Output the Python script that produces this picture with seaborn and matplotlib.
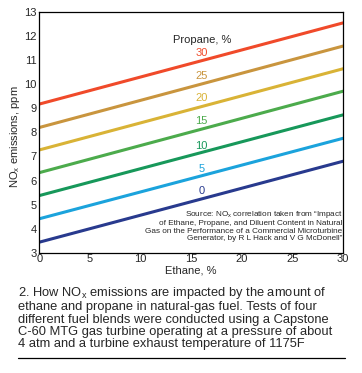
import pandas as pd
import matplotlib.pyplot as plt
import seaborn as sns

# ── DATA ───────────────────────────────────────────────
ethane = [0, 30]
propane = [0, 5, 10, 15, 20, 25, 30]
nox_at_0 = [3.45, 4.42, 5.38, 6.33, 7.27, 8.20, 9.17]
nox_at_30 = [6.80, 7.75, 8.72, 9.70, 10.63, 11.57, 12.53]
label_y = [5.56, 6.50, 7.44, 8.48, 9.40, 10.35, 11.30]
colors = ['#283a8e', '#1ba3dc', '#17985a', '#4cab4c', '#d9b336', '#c9953e', '#f04a2a']

x_ticks = [0, 5, 10, 15, 20, 25, 30]
y_ticks = [3, 4, 5, 6, 7, 8, 9, 10, 11, 12, 13]

rows = []
for p, a, b in zip(propane, nox_at_0, nox_at_30):
    rows.append({'Ethane': ethane[0], 'NOx': a, 'Propane': p})
    rows.append({'Ethane': ethane[1], 'NOx': b, 'Propane': p})
df = pd.DataFrame(rows)

# ── STYLE ──────────────────────────────────────────────
sns.set_style('white')
plt.rcParams['font.family'] = ['Liberation Sans', 'DejaVu Sans']
plt.rcParams['mathtext.fontset'] = 'custom'
plt.rcParams['mathtext.rm'] = 'Liberation Sans'
plt.rcParams['mathtext.it'] = 'Liberation Sans'

fig = plt.figure(figsize=(3.62, 3.73), dpi=100)
ax = fig.add_axes([0.109, 0.3217, 0.8385, 0.6473])

sns.lineplot(data=df, x='Ethane', y='NOx', hue='Propane',
             palette=dict(zip(propane, colors)), linewidth=2.2,
             legend=False, ax=ax)

ax.set_xlim(0, 30)
ax.set_ylim(3, 13)
ax.set_xticks(x_ticks)
ax.set_yticks(y_ticks)
ax.tick_params(axis='x', direction='in', length=7, width=0.8, labelsize=8, pad=1)
ax.tick_params(axis='y', direction='in', length=4, width=0.8, labelsize=8, pad=2)
for s in ax.spines.values():
    s.set_linewidth(0.9)
    s.set_color('black')

ax.set_xlabel('Ethane, %', fontsize=8, labelpad=1)
ax.set_ylabel('NO$_\\mathrm{x}$ emissions, ppm', fontsize=8)
ax.yaxis.set_label_coords(-0.057, 0.48)

# line labels
ax.text(16.1, 11.82, 'Propane, %', fontsize=8, ha='center', va='center')
for p, y, c in zip(propane, label_y, colors):
    ax.text(16.0, y, str(p), fontsize=8, ha='center', va='center', color=c)

source = ('Source: NO$_\\mathrm{x}$ correlation taken from \u201cImpact\n'
          'of Ethane, Propane, and Diluent Content in Natural\n'
          'Gas on the Performance of a Commercial Microturbine\n'
          'Generator, by R L Hack and V G McDonell\u201d')
ax.text(29.95, 3.45, source, fontsize=5.9, ha='right', va='bottom',
        linespacing=1.1)

caption = ('2. How NO$_\\mathrm{x}$ emissions are impacted by the amount of\n'
           'ethane and propane in natural-gas fuel. Tests of four\n'
           'different fuel blends were conducted using a Capstone\n'
           'C-60 MTG gas turbine operating at a pressure of about\n'
           '4 atm and a turbine exhaust temperature of 1175F')
fig.text(18 / 362, 1 - 285 / 373, caption, fontsize=9.3, ha='left', va='top',
         linespacing=1.04)
fig.add_artist(plt.Line2D([18 / 362, 345 / 362], [1 - 358 / 373, 1 - 358 / 373],
                          color='black', linewidth=0.9))

plt.savefig('out.png', dpi=100)
